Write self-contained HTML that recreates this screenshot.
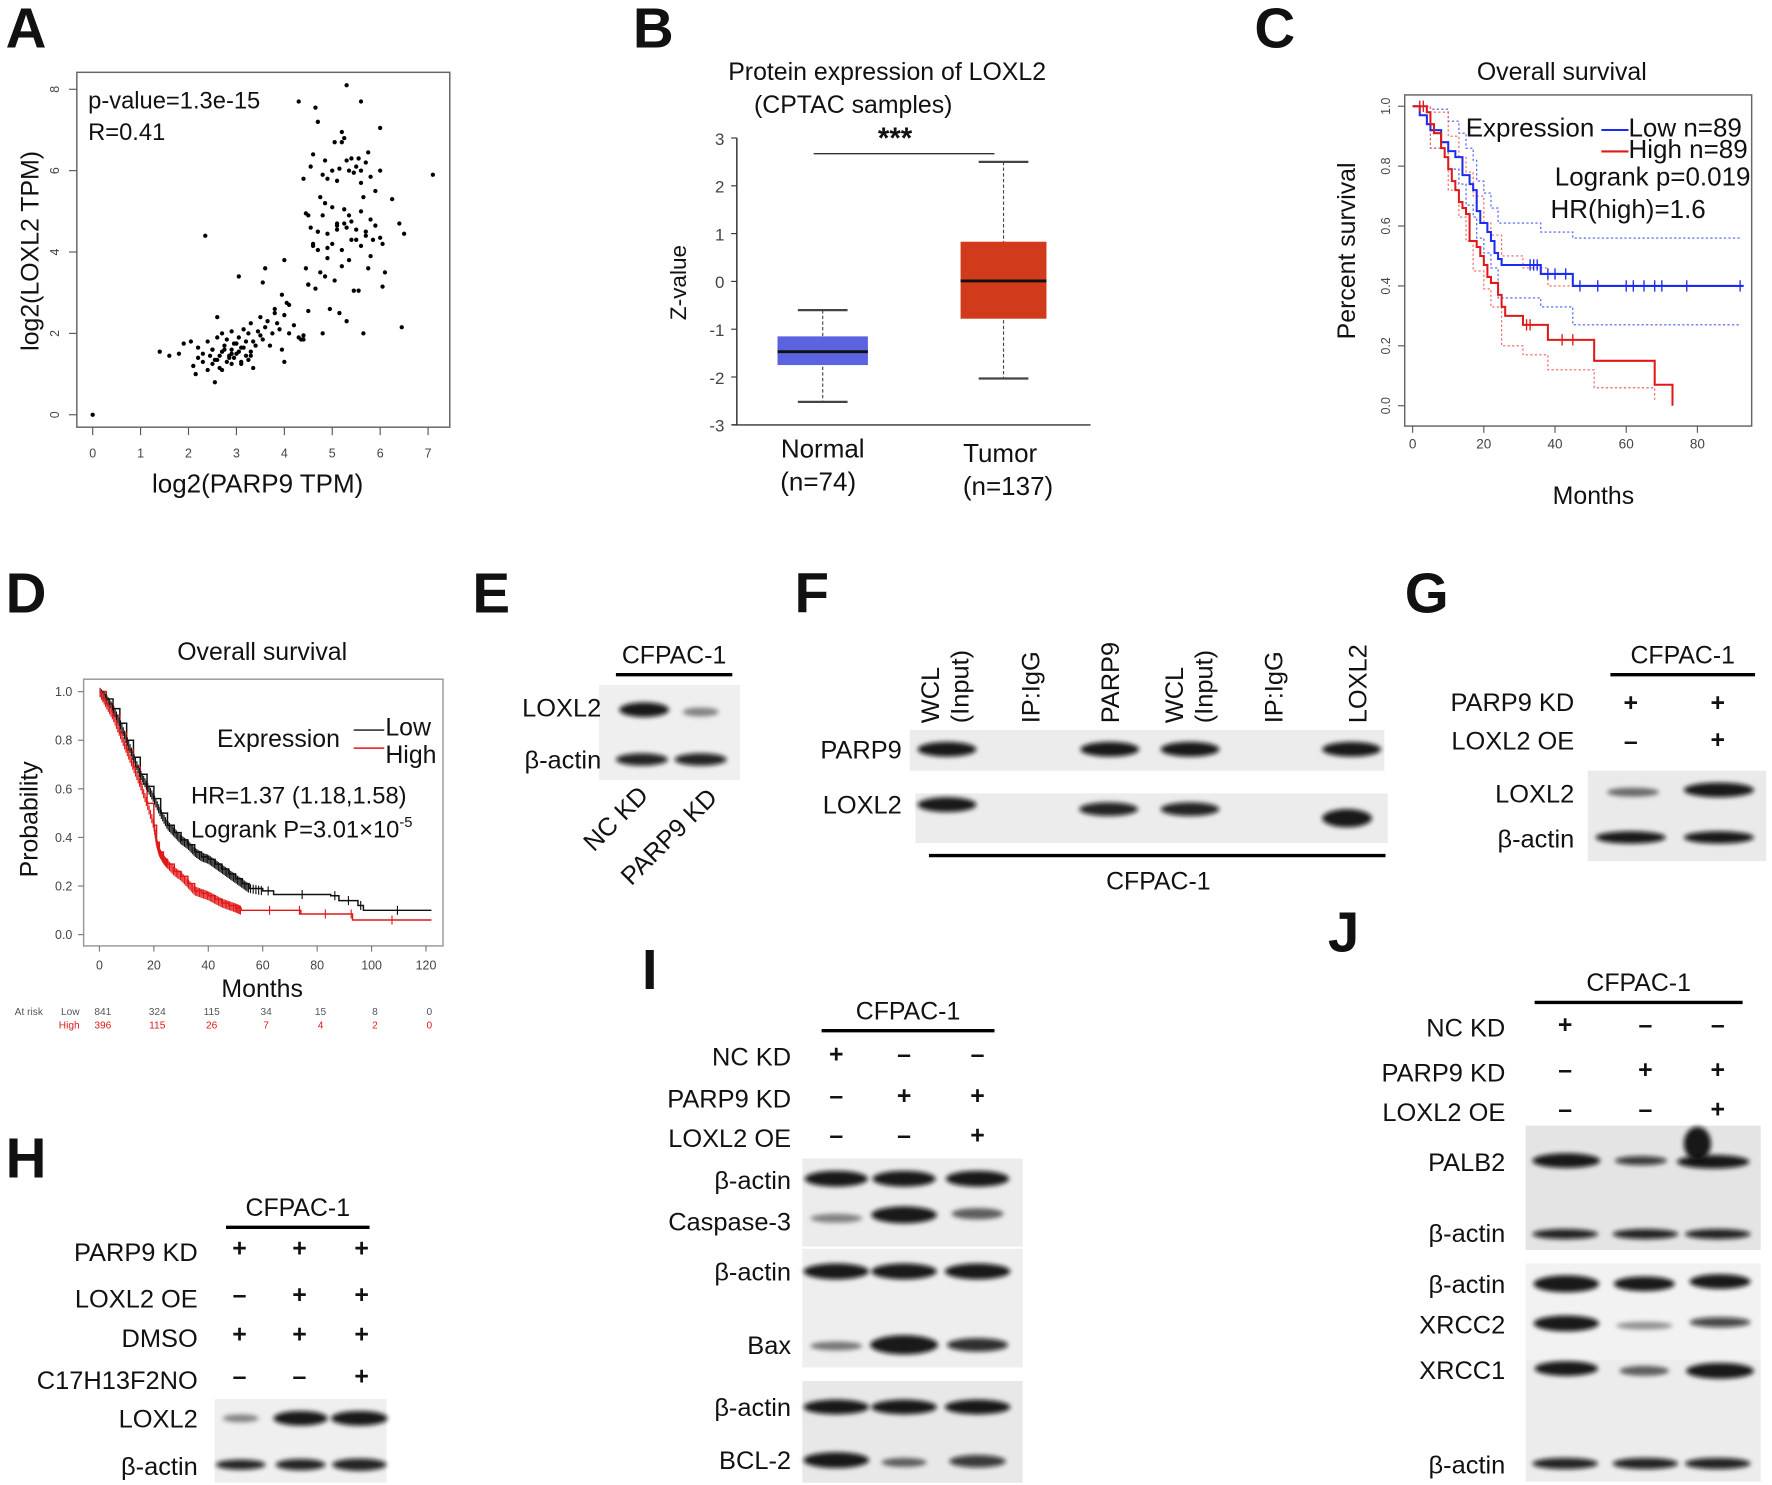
<!DOCTYPE html>
<html><head><meta charset="utf-8">
<style>
html,body{margin:0;padding:0;background:#fff;}
svg{display:block;font-family:"Liberation Sans",Arial,sans-serif;}
</style></head>
<body>
<svg id="fig" width="1772" height="1485" viewBox="0 0 1568 1314" preserveAspectRatio="none" xmlns="http://www.w3.org/2000/svg">
<defs>
<filter id="blur" x="-30%" y="-100%" width="160%" height="300%"><feGaussianBlur stdDeviation="2.2"/></filter>
</defs>
<g id="root"></g>
</svg>
<script>
// ---- Panel A data ----
const scatterX=[0,1.4,1.6,1.8,1.9,2.05,2.1,2.15,2.2,2.2,2.3,2.3,2.4,2.4,2.45,2.5,2.5,2.55,2.6,2.6,2.65,2.7,2.7,2.75,2.8,2.8,2.85,2.9,2.9,2.95,3.0,3.0,3.05,3.1,3.1,3.15,3.2,3.2,3.25,3.3,3.3,3.35,3.4,3.45,3.5,3.5,3.55,3.6,3.65,3.7,3.75,3.8,3.85,3.9,3.95,4.0,4.0,4.05,4.1,4.2,4.3,4.4,4.5,2.6,2.9,3.05,3.55,3.6,3.8,3.95,4.0,4.1,4.35,4.4,4.45,4.5,4.55,4.6,4.65,4.7,4.75,4.8,4.85,4.9,4.95,5.0,5.05,5.1,5.15,5.2,5.25,5.3,5.35,5.4,5.45,5.5,5.55,5.6,5.65,5.7,5.75,5.8,5.85,5.9,6.0,6.05,6.1,6.25,6.4,4.5,4.6,4.7,4.8,4.9,5.0,5.1,5.2,5.3,5.4,5.5,5.6,5.7,5.8,4.45,4.55,4.8,4.9,5.0,5.1,5.3,5.4,5.5,5.6,5.8,5.9,6.0,4.6,4.75,4.85,5.05,5.15,5.25,5.35,5.45,5.65,5.75,4.4,4.65,4.7,5.2,5.55,5.6,5.7,7.1,6.5,6.45,5.2,5.3,5.6,4.3,4.85,6.0,6.05,4.5,4.9,5.1,5.25,5.35,2.35,2.55,2.65,2.75,2.85,2.95,3.05,3.15,3.25,3.35,2.5,2.7,2.9,3.1,3.3];
const scatterY=[0,1.55,1.45,1.5,1.75,1.8,1.2,1.0,1.4,1.65,1.3,1.5,1.1,1.8,1.45,1.25,1.6,0.8,1.35,1.9,1.15,1.55,2.0,1.7,1.3,1.85,1.45,1.6,2.05,1.4,1.75,1.5,1.9,1.25,1.65,2.1,1.45,1.8,2.0,1.55,2.25,1.15,1.7,2.05,1.95,2.4,1.85,2.15,2.3,1.7,2.0,2.5,2.25,2.1,1.6,1.3,2.45,2.75,2.7,2.2,1.9,1.85,2.55,2.4,1.5,3.4,3.25,3.6,2.6,2.95,3.8,2.0,1.85,1.95,3.6,3.2,4.6,4.2,3.1,4.05,3.5,2.0,3.4,4.45,2.6,5.1,3.3,4.55,2.5,3.65,4.7,2.3,4.9,4.3,3.05,4.55,3.05,4.15,2.0,4.5,3.6,4.8,4.3,4.65,4.35,3.15,3.5,5.3,4.7,4.9,4.15,4.5,4.9,3.85,4.2,4.65,4.05,4.6,4.75,4.3,5.0,4.4,3.9,4.95,6.1,5.9,5.8,6.0,5.75,6.25,6.3,6.1,5.7,5.85,5.5,6.0,6.4,5.35,6.25,6.7,6.05,6.8,6.0,5.95,5.35,6.45,5.8,7.55,7.2,6.95,6.3,6.0,6.2,5.9,4.45,2.15,6.7,8.1,7.7,7.7,5.2,7.05,4.2,3.2,4.1,4.7,5.05,3.8,4.4,1.35,1.45,1.6,1.4,1.75,1.55,1.65,1.35,1.8,1.6,1.1,1.25,1.3,1.45,1.7];
// ---- Panel B data ----
const boxGroups=["Normal","Tumor"];
const boxMin=[-2.52,-2.03], boxQ1=[-1.75,-0.78], boxMed=[-1.47,0.01], boxQ3=[-1.15,0.83], boxMax=[-0.6,2.5];
const zTicks=[3,2,1,0,-1,-2,-3];
// ---- Panel C data ----
const cLowT=[0,2,4,5,8,10,12,14,16,17,18,19,21,22,23,24,25,36,45,93];
const cLowS=[1,0.97,0.94,0.92,0.88,0.85,0.83,0.77,0.74,0.72,0.65,0.61,0.58,0.55,0.51,0.49,0.47,0.44,0.40,0.40];
const cHighT=[0,4,5,6,8,9,10,11,12,13,14,15,16,18,19,20,21,22,24,25,26,31,38,51,68,73];
const cHighS=[1,0.98,0.94,0.91,0.86,0.83,0.79,0.75,0.72,0.68,0.66,0.64,0.55,0.53,0.50,0.47,0.43,0.41,0.37,0.33,0.30,0.27,0.22,0.15,0.07,0.0];
const cLowUpT=[0,5,10,13,15,17,18,20,22,24,36,45,92], cLowUpS=[1,0.99,0.95,0.91,0.86,0.82,0.75,0.71,0.66,0.61,0.58,0.56,0.56];
const cLowLoT=[0,5,10,13,15,17,18,20,22,24,36,45,92], cLowLoS=[1,0.86,0.79,0.74,0.67,0.63,0.56,0.51,0.46,0.36,0.33,0.27,0.27];
const cHighUpT=[0,5,10,13,15,17,20,22,25,31,38,45,51,68], cHighUpS=[1,0.98,0.90,0.83,0.78,0.70,0.61,0.57,0.50,0.46,0.40,0.40,0.40,0.40];
const cHighLoT=[0,5,10,13,15,17,20,22,25,31,38,51,68], cHighLoS=[1,0.86,0.72,0.63,0.55,0.45,0.39,0.33,0.20,0.17,0.12,0.06,0.02];
const cLowCens=[33,34,35,38,40,43,47,52,60,62,65,68,70,77,92];
const cHighCens=[2,3,32,33,42,45];
const cXTicks=[0,20,40,60,80], cYTicks=[0,0.2,0.4,0.6,0.8,1.0];
// ---- Panel D data ----
const dLowT=[0,2.5,5,7.5,10,12.5,15,17.5,20,22.5,25,27.5,30,32.5,35,37.5,40,42.5,45,47.5,50,52.5,55,60,64,85,88,95,97,122];
const dLowS=[1,0.97,0.93,0.87,0.80,0.73,0.66,0.61,0.56,0.50,0.45,0.42,0.39,0.37,0.34,0.32,0.31,0.29,0.27,0.25,0.23,0.21,0.19,0.18,0.165,0.16,0.14,0.12,0.10,0.10];
const dHighT=[0,2.5,5,7.5,10,12.5,15,17.5,20,21,22,23.5,25,27.5,30,32.5,35,37.5,40,42.5,45,47.5,50,52,73,74,92,93,122];
const dHighS=[1,0.95,0.90,0.83,0.76,0.69,0.62,0.54,0.45,0.38,0.34,0.31,0.29,0.26,0.24,0.21,0.18,0.17,0.16,0.145,0.13,0.12,0.11,0.10,0.10,0.085,0.085,0.06,0.06];
const dXTicks=[0,20,40,60,80,100,120], dYTicks=[0,0.2,0.4,0.6,0.8,1.0];
const riskLow=["841","324","115","34","15","8","0"], riskHigh=["396","115","26","7","4","2","0"];

const NS="http://www.w3.org/2000/svg";
const root=document.getElementById('root');
function mk(tag,attrs,parent){const e=document.createElementNS(NS,tag);for(const k in attrs)e.setAttribute(k,attrs[k]);(parent||root).appendChild(e);return e;}
function txt(s,x,y,size,opt){opt=opt||{};const e=mk('text',{x:x,y:y,'font-size':size,'text-anchor':opt.anchor||'start',fill:opt.fill||'#111','font-weight':opt.bold?'bold':'normal'},opt.parent);if(opt.rot!==undefined)e.setAttribute('transform','rotate('+opt.rot+' '+x+' '+y+')');e.textContent=s;return e;}
function line(x1,y1,x2,y2,st,w,opt){opt=opt||{};const e=mk('line',{x1:x1,y1:y1,x2:x2,y2:y2,stroke:st,'stroke-width':w},opt.parent);if(opt.dash)e.setAttribute('stroke-dasharray',opt.dash);return e;}
function stepPath(T,S,fx,fy){let d='M'+fx(T[0])+' '+fy(S[0]);for(let i=1;i<T.length;i++){d+=' H'+fx(T[i])+' V'+fy(S[i]);}return d;}
function stepAt(T,S,t){let v=S[0];for(let i=0;i<T.length;i++){if(T[i]<=t)v=S[i];}return v;}

// Panel letters
[["A",5,42],["B",560,42],["C",1110,42],["D",5,542],["E",418,542],["F",703,542],["G",1243,542],["H",5,1042],["I",568,875],["J",1175,842]].forEach(l=>{
 const t=txt(l[0],l[1],l[2],50,{bold:true});
 
 
});

// ===== Panel A =====
(function(){
 const g=mk('g',{});
 
 
 const fx=v=>82+v*42.4, fy=v=>367-v*36;
 const box=mk('rect',{x:68,y:64,width:330,height:314,fill:'none',stroke:'#666','stroke-width':1.3},g);
 
 
 for(let i=0;i<=7;i++){line(fx(i),378,fx(i),385,'#555',1,{parent:g});txt(String(i),fx(i),405,11,{anchor:'middle',fill:'#444',parent:g});}
 for(let i=0;i<=8;i+=2){line(61,fy(i),68,fy(i),'#555',1,{parent:g});txt(String(i),52,fy(i),11,{anchor:'middle',fill:'#444',rot:-90,parent:g});}
 for(let i=0;i<scatterX.length;i++){
  const c=mk('circle',{cx:fx(scatterX[i]),cy:fy(scatterY[i]),r:1.9,fill:'#000'},g);
  
  
 }
 txt('p-value=1.3e-15',78,96,21,{parent:g});
 txt('R=0.41',78,124,21,{parent:g});
 const xl=txt('log2(PARP9 TPM)',228,436,23,{anchor:'middle',parent:g});
 
 
 const yl=txt('log2(LOXL2 TPM)',34,222,22,{anchor:'middle',rot:-90,parent:g});
 
 
})();

// ===== Panel B =====
(function(){
 const g=mk('g',{});
 
 
 const fy=v=>249-v*42.3; const cx=[728,888]; const hw=[40,38]; const col=['#5b63e0','#d13a1a'];
 txt('Protein expression of LOXL2',785,71,22,{anchor:'middle',parent:g});
 txt('(CPTAC samples)',755,100,22,{anchor:'middle',parent:g});
 txt('***',792,131,26,{anchor:'middle',bold:true,parent:g});
 line(720,136,880,136,'#333',1.3,{parent:g});
 line(652,122,652,376,'#333',1.3,{parent:g});
 line(648,376,965,376,'#333',1.3,{parent:g});
 zTicks.forEach(t=>{line(647,fy(t),652,fy(t),'#333',1,{parent:g});txt(String(t),641,fy(t)+6,15,{anchor:'end',fill:'#444',parent:g});});
 for(let i=0;i<boxGroups.length;i++){
  line(cx[i],fy(boxMax[i]),cx[i],fy(boxMin[i]),'#444',1,{dash:'3,2',parent:g});
  line(cx[i]-22,fy(boxMax[i]),cx[i]+22,fy(boxMax[i]),'#444',2,{parent:g});
  line(cx[i]-22,fy(boxMin[i]),cx[i]+22,fy(boxMin[i]),'#444',2,{parent:g});
  const b=mk('rect',{x:cx[i]-hw[i],y:fy(boxQ3[i]),width:hw[i]*2,height:fy(boxQ1[i])-fy(boxQ3[i]),fill:col[i]},g);
  
  
  line(cx[i]-hw[i],fy(boxMed[i]),cx[i]+hw[i],fy(boxMed[i]),'#111',2.5,{parent:g});
 }
 txt('Normal',728,405,23,{anchor:'middle',parent:g});
 txt('(n=74)',724,434,23,{anchor:'middle',parent:g});
 txt('Tumor',885,409,23,{anchor:'middle',parent:g});
 txt('(n=137)',892,438,23,{anchor:'middle',parent:g});
 const yl=txt('Z-value',607,250,20,{anchor:'middle',rot:-90,parent:g});
 
 
})();

// ===== Panel C =====
(function(){
 const g=mk('g',{});
 
 
 const fx=v=>1250+v*3.15, fy=v=>359-v*265;
 txt('Overall survival',1382,71,22,{anchor:'middle',parent:g});
 mk('rect',{x:1243,y:84,width:307,height:293,fill:'none',stroke:'#666','stroke-width':1.3},g);
 cXTicks.forEach(t=>{line(fx(t),377,fx(t),383,'#555',1,{parent:g});txt(String(t),fx(t),397,12,{anchor:'middle',fill:'#444',parent:g});});
 cYTicks.forEach(t=>{line(1237,fy(t),1243,fy(t),'#555',1,{parent:g});txt(t.toFixed(1),1230,fy(t),11,{anchor:'middle',fill:'#444',rot:-90,parent:g});});
 const bands=[[cLowUpT,cLowUpS,'#4b5cf0'],[cLowLoT,cLowLoS,'#4b5cf0'],[cHighUpT,cHighUpS,'#f06060'],[cHighLoT,cHighLoS,'#f06060']];
 bands.forEach(b=>{const p=mk('path',{d:stepPath(b[0],b[1],fx,fy),fill:'none',stroke:b[2],'stroke-width':1,'stroke-dasharray':'2,2'},g);
  
  });
 const pl=mk('path',{d:stepPath(cLowT,cLowS,fx,fy),fill:'none',stroke:'#1a2cf0','stroke-width':1.8},g);
 
 
 const ph=mk('path',{d:stepPath(cHighT,cHighS,fx,fy),fill:'none',stroke:'#e01818','stroke-width':1.8},g);
 
 
 cLowCens.forEach(t=>{const y=fy(stepAt(cLowT,cLowS,t));line(fx(t),y-5,fx(t),y+5,'#1a2cf0',1.2,{parent:g});});
 cHighCens.forEach(t=>{const y=fy(stepAt(cHighT,cHighS,t));line(fx(t),y-5,fx(t),y+5,'#e01818',1.2,{parent:g});});
 txt('Expression',1297,121,23,{parent:g});
 line(1417,115,1441,115,'#1a2cf0',1.8,{parent:g});
 txt('Low n=89',1441,121,23,{parent:g});
 line(1417,134,1441,134,'#e01818',1.8,{parent:g});
 txt('High n=89',1441,140,23,{parent:g});
 txt('Logrank p=0.019',1549,164,23,{anchor:'end',parent:g});
 txt('HR(high)=1.6',1372,193,23,{parent:g});
 txt('Months',1410,446,22,{anchor:'middle',parent:g});
 const yl=txt('Percent survival',1199,222,22,{anchor:'middle',rot:-90,parent:g});
 
 
})();

// ===== Panel D =====
(function(){
 const g=mk('g',{});
 
 
 const fx=v=>88+v*2.408, fy=v=>827-v*215;
 txt('Overall survival',232,584,22,{anchor:'middle',parent:g});
 mk('rect',{x:74,y:601,width:318,height:236,fill:'none',stroke:'#999','stroke-width':1.3},g);
 dXTicks.forEach(t=>{line(fx(t),837,fx(t),842,'#777',1,{parent:g});txt(String(t),fx(t),858,11,{anchor:'middle',fill:'#444',parent:g});});
 dYTicks.forEach(t=>{line(69,fy(t),74,fy(t),'#777',1,{parent:g});txt(t.toFixed(1),64,fy(t)+4,11,{anchor:'end',fill:'#444',parent:g});});
 const pl=mk('path',{d:stepPath(dLowT,dLowS,fx,fy),fill:'none',stroke:'#111','stroke-width':1.3},g);
 
 
 const ph=mk('path',{d:stepPath(dHighT,dHighS,fx,fy),fill:'none',stroke:'#e01818','stroke-width':1.3},g);
 
 
 function cens(T,S,col,lim){for(let i=0;i<T.length-1;i++){const n=T[i]<lim?5:1;for(let k=0;k<n;k++){const t=T[i]+(T[i+1]-T[i])*(k+0.5)/n;const y=fy(S[i]+(S[i+1]-S[i])*(T[i]<lim?(k+0.5)/n:0));line(fx(t),y-4,fx(t),y+4,col,1,{parent:g});}}}
 cens(dLowT,dLowS,'#111',56);
 cens(dHighT,dHighS,'#e01818',52);
 txt('Expression',192,661,22,{parent:g});
 line(313,646,340,646,'#111',1.3,{parent:g});
 txt('Low',341,651,22,{parent:g});
 line(313,662,340,662,'#e01818',1.3,{parent:g});
 txt('High',341,675,22,{parent:g});
 txt('HR=1.37 (1.18,1.58)',169,711,21,{parent:g});
 const lp=txt('Logrank P=3.01×10',169,741,21,{parent:g});
 const sup=document.createElementNS(NS,'tspan');sup.setAttribute('dy','-9');sup.setAttribute('font-size','13');sup.textContent='-5';lp.appendChild(sup);
 txt('Months',232,882,22,{anchor:'middle',parent:g});
 const yl=txt('Probability',33,725,22,{anchor:'middle',rot:-90,parent:g});
 
 
 txt('At risk',13,898,9,{fill:'#555',parent:g});
 txt('Low',54,898,9,{fill:'#555',parent:g});
 txt('High',52,910,9,{fill:'#e01818',parent:g});
 for(let i=0;i<dXTicks.length;i++){txt(riskLow[i],fx(dXTicks[i])+3,898,9,{anchor:'middle',fill:'#555',parent:g});txt(riskHigh[i],fx(dXTicks[i])+3,910,9,{anchor:'middle',fill:'#e01818',parent:g});}
})();

// ===== Western blots =====
function bg(x,y,w,h,c,name){const r=mk('rect',{x:x,y:y,width:w,height:h,fill:c||'#ececec'});return r;}
function band(cx,cy,w,h,op){const e=mk('ellipse',{cx:cx,cy:cy,rx:w/2,ry:h/2,fill:'#0a0a0a','fill-opacity':op,filter:'url(#blur)'});return e;}
function header(x1,x2,y,label){line(x1,y,x2,y,'#000',3);txt(label,(x1+x2)/2,y-10,22,{anchor:'middle'});}
function sign(s,x,y){txt(s==='+'?'+':'–',x,y,22,{anchor:'middle',bold:true});}
const L=22.5;

// E
header(545,648,597,'CFPAC-1');
bg(530,606,125,84,'#efefef');
txt('LOXL2',532,634,L,{anchor:'end'});txt('β-actin',532,680,L,{anchor:'end'});
band(570,628,44,13,0.95);band(620,630,32,8,0.45);
band(568,672,46,11,0.9);band(620,672,46,11,0.9);
txt('NC KD',575,705,L,{anchor:'end',rot:-45});txt('PARP9 KD',636,707,L,{anchor:'end',rot:-45});

// F
[['WCL',824],['(Input)',850],['IP:IgG',913],['PARP9',983],['WCL',1040],['(Input)',1066],['IP:IgG',1128],['LOXL2',1202]].forEach(c=>txt(c[0],c[1]+7,640,L,{rot:-90}));
bg(805,646,420,36,'#ececec');bg(810,702,418,44,'#ececec');
txt('PARP9',798,671,L,{anchor:'end'});txt('LOXL2',798,720,L,{anchor:'end'});
[838,982,1053,1196].forEach(x=>band(x,663,52,13,0.95));
band(838,712,52,13,0.95);band(981,716,52,12,0.9);band(1053,716,52,12,0.9);band(1192,724,44,16,0.95);
line(822,757,1226,757,'#000',3);txt('CFPAC-1',1025,787,22,{anchor:'middle'});

// G
header(1425,1553,597,'CFPAC-1');
txt('PARP9 KD',1393,629,L,{anchor:'end'});sign('+',1443,629);sign('+',1520,629);
txt('LOXL2 OE',1393,663,L,{anchor:'end'});sign('-',1443,663);sign('+',1520,662);
bg(1405,682,158,80,'#eaeaea');
txt('LOXL2',1393,710,L,{anchor:'end'});txt('β-actin',1393,750,L,{anchor:'end'});
band(1445,701,46,8,0.55);band(1521,699,62,13,0.95);
band(1443,741,62,11,0.95);band(1521,741,62,11,0.95);

// H
header(200,327,1086,'CFPAC-1');
const hRows=[['PARP9 KD',1116,['+','+','+']],['LOXL2 OE',1157,['-','+','+']],['DMSO',1192,['+','+','+']],['C17H13F2NO',1229,['-','-','+']]];
hRows.forEach(r=>{txt(r[0],175,r[1],L,{anchor:'end'});r[2].forEach((s,i)=>sign(s,[212,265,320][i],r[1]-4));});
bg(190,1238,152,74,'#efefef');
txt('LOXL2',175,1263,L,{anchor:'end'});txt('β-actin',175,1305,L,{anchor:'end'});
band(213,1255,32,7,0.45);band(266,1255,48,13,0.95);band(318,1255,50,13,0.95);
band(213,1296,44,9,0.9);band(266,1296,44,10,0.9);band(318,1296,48,11,0.9);

// I
header(727,880,912,'CFPAC-1');
const cols=[740,800,865];
[['NC KD',943,['+','-','-']],['PARP9 KD',980,['-','+','+']],['LOXL2 OE',1015,['-','-','+']]].forEach(r=>{txt(r[0],700,r[1],L,{anchor:'end'});r[2].forEach((s,i)=>sign(s,cols[i],r[1]-3));});
bg(710,1025,195,78,'#ececec');bg(710,1105,195,105,'#eeeeee');bg(710,1222,195,90,'#e8e8e8');
[['β-actin',1052],['Caspase-3',1089],['β-actin',1133],['Bax',1198],['β-actin',1253],['BCL-2',1300]].forEach(r=>txt(r[0],700,r[1],L,{anchor:'end'}));
cols.forEach(x=>band(x,1043,56,14,0.95));
band(740,1078,46,8,0.45);band(800,1075,58,15,0.95);band(865,1074,46,10,0.6);
cols.forEach(x=>band(x,1125,58,14,0.95));
band(740,1191,46,8,0.5);band(800,1190,60,17,0.95);band(865,1190,54,12,0.85);
cols.forEach(x=>band(x,1245,58,13,0.95));
band(740,1292,58,14,0.95);band(800,1294,40,8,0.6);band(865,1293,50,11,0.8);

// J
header(1358,1542,887,'CFPAC-1');
const jc=[1385,1456,1520];
[['NC KD',917,['+','-','-']],['PARP9 KD',957,['-','+','+']],['LOXL2 OE',992,['-','-','+']]].forEach(r=>{txt(r[0],1332,r[1],L,{anchor:'end'});r[2].forEach((s,i)=>sign(s,jc[i],r[1]-3));});
bg(1350,996,208,110,'#e4e4e4');bg(1350,1118,208,85,'#f2f2f2');bg(1350,1203,208,108,'#ececec');
[['PALB2',1036],['β-actin',1099],['β-actin',1144],['XRCC2',1180],['XRCC1',1220],['β-actin',1304]].forEach(r=>txt(r[0],1332,r[1],L,{anchor:'end'}));
band(1386,1027,60,13,0.95);band(1452,1027,46,8,0.8);band(1516,1028,64,12,0.95);band(1502,1012,24,30,0.95);
jc.forEach(x=>band(x,1092,58,9,0.9));
band(1386,1136,58,15,0.95);band(1455,1136,54,13,0.95);band(1522,1134,54,13,0.95);
band(1386,1171,58,14,0.95);band(1455,1173,50,7,0.4);band(1522,1170,54,9,0.75);
band(1386,1211,56,13,0.95);band(1455,1213,44,9,0.6);band(1522,1213,60,14,0.95);
jc.forEach(x=>band(x,1295,58,10,0.9));
</script>
</body></html>
